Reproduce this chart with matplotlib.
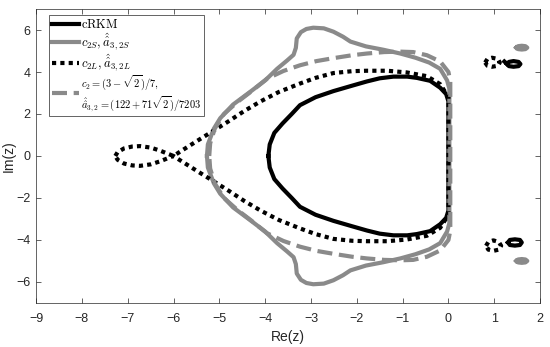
import numpy as np
import matplotlib
matplotlib.use("Agg")
import matplotlib.pyplot as plt

plt.rcParams["font.family"] = ["Liberation Sans", "DejaVu Sans"]
plt.rcParams["mathtext.fontset"] = "cm"

# =========================
# Data (upper halves; lower half is the mirror image)
# =========================

crkm_x = [-3.93, -3.90, -3.80, -3.62, -3.42, -3.24, -2.90, -2.51, -2.10, -1.78,
          -1.50, -1.20, -0.90, -0.69, -0.40, -0.18, -0.05, 0.0, 0.0]
crkm_y = [0.0, 0.55, 1.10, 1.55, 2.00, 2.42, 2.80, 3.09, 3.35, 3.55,
          3.70, 3.78, 3.78, 3.72, 3.58, 3.25, 2.95, 2.60, 0.0]

c2s_x = [-5.27, -5.25, -5.12, -4.98, -4.70, -4.33, -4.00, -3.74, -3.52, -3.38,
         -3.33, -3.31, -3.22, -3.10, -2.95, -2.72, -2.51, -2.30, -2.14, -1.80,
         -1.42, -1.05, -0.72, -0.42, -0.18, -0.03, 0.02, 0.02]
c2s_y = [0.0, 0.55, 1.30, 1.80, 2.45, 3.05, 3.60, 4.15, 4.55, 4.82,
         5.15, 5.60, 5.90, 6.05, 6.11, 6.08, 5.92, 5.68, 5.45, 5.22,
         5.06, 4.88, 4.68, 4.45, 4.15, 3.60, 3.20, 0.0]

c2l_x = [-7.27, -7.22, -7.08, -6.90, -6.73, -6.50, -6.30, -6.15, -6.00,
         -5.86, -5.49, -5.15, -4.80, -4.45, -4.10, -3.70, -3.24, -2.90,
         -2.51, -2.10, -1.78, -1.34, -0.91, -0.47, -0.18, 0.0, 0.0]
c2l_y = [0.0, 0.18, 0.36, 0.45, 0.47, 0.40, 0.26, 0.13, 0.0,
         0.20, 0.71, 1.17, 1.65, 2.15, 2.60, 3.05, 3.45, 3.72,
         3.95, 4.04, 4.06, 4.06, 3.98, 3.80, 3.42, 2.80, 0.0]

c2_x = [-5.22, -5.20, -5.10, -4.90, -4.60, -4.30, -3.96, -3.60, -3.24, -2.88,
        -2.51, -2.10, -1.78, -1.40, -1.05, -0.77, -0.47, -0.18, 0.0, 0.04, 0.04]
c2_y = [0.0, 0.60, 1.30, 2.00, 2.58, 3.08, 3.68, 4.05, 4.32, 4.52,
        4.66, 4.80, 4.88, 4.95, 4.97, 4.95, 4.80, 4.50, 4.00, 3.55, 0.0]

# small isolated loops near the imaginary axis
gray_top_x = [1.48, 1.52, 1.60, 1.68, 1.72, 1.68, 1.60, 1.52, 1.48]
gray_top_y = [5.16, 5.23, 5.25, 5.23, 5.16, 5.09, 5.07, 5.09, 5.16]
gray_bot_x = [1.48, 1.52, 1.60, 1.68, 1.72, 1.68, 1.60, 1.52, 1.48]
gray_bot_y = [-5.00, -4.93, -4.91, -4.93, -5.00, -5.07, -5.09, -5.07, -5.00]

blk_top_x = [1.28, 1.32, 1.42, 1.53, 1.57, 1.53, 1.42, 1.32, 1.28, 1.22]
blk_top_y = [4.38, 4.48, 4.52, 4.48, 4.38, 4.28, 4.25, 4.28, 4.38, 4.50]
blk_bot_x = [1.30, 1.34, 1.45, 1.56, 1.60, 1.56, 1.45, 1.34, 1.30]
blk_bot_y = [-4.12, -4.00, -3.97, -4.00, -4.12, -4.24, -4.27, -4.24, -4.12]

dot_top_x = [0.80, 0.85, 0.95, 1.08, 1.12, 1.08, 0.95, 0.85, 0.80]
dot_top_y = [4.45, 4.62, 4.68, 4.62, 4.45, 4.30, 4.25, 4.30, 4.45]
dot_bot_x = [0.82, 0.87, 0.98, 1.10, 1.15, 1.10, 0.98, 0.87, 0.82]
dot_bot_y = [-4.28, -4.10, -4.02, -4.10, -4.28, -4.46, -4.52, -4.46, -4.28]

labels = [
    r"$\mathrm{cRKM}$",
    r"$c_{2S},\hat{\hat{a}}_{3,2S}$",
    r"$c_{2L},\hat{\hat{a}}_{3,2L}$",
    r"$c_2=(3-\sqrt{2})/7,$" + "\n" + r"$\hat{\hat{a}}_{3,2}=(122+71\sqrt{2})/7203$",
]

x_ticks = list(range(-9, 3))
y_ticks = [-6, -4, -2, 0, 2, 4, 6]

GRAY = "#8a8a8a"


def closed(xs, ys):
    # upper half followed by its mirror image, so the boundary is closed
    xs = np.asarray(xs)
    ys = np.asarray(ys)
    return np.concatenate([xs, xs[::-1]]), np.concatenate([ys, -ys[::-1]])


fig = plt.figure(figsize=(5.5, 3.47), dpi=100)
ax = fig.add_axes([0.0655, 0.127, 0.9165, 0.847])

lw = 3.0
x, y = closed(crkm_x, crkm_y)
ax.plot(x, y, color="black", lw=lw, label=labels[0])
ax.plot(blk_top_x, blk_top_y, color="black", lw=lw)
ax.plot(blk_bot_x, blk_bot_y, color="black", lw=lw)

x, y = closed(c2s_x, c2s_y)
ax.plot(x, y, color=GRAY, lw=lw, label=labels[1])
ax.plot(gray_top_x, gray_top_y, color=GRAY, lw=lw)
ax.plot(gray_bot_x, gray_bot_y, color=GRAY, lw=lw)

x, y = closed(c2l_x, c2l_y)
ax.plot(x, y, color="black", lw=lw, ls=(0, (1, 1)), label=labels[2])
ax.plot(dot_top_x, dot_top_y, color="black", lw=lw, ls=(0, (1, 1)))
ax.plot(dot_bot_x, dot_bot_y, color="black", lw=lw, ls=(0, (1, 1)))

x, y = closed(c2_x, c2_y)
ax.plot(x, y, color=GRAY, lw=lw, ls=(0, (3.6, 1.6)), label=labels[3])

ax.set_xlim(-9, 2)
ax.set_ylim(-7, 7)
ax.set_xticks(x_ticks)
ax.set_yticks(y_ticks)
ax.set_xlabel("Re(z)", fontsize=10, color="#262626", labelpad=4)
ax.set_ylabel("Im(z)", fontsize=10, color="#262626", labelpad=0)
ax.tick_params(direction="in", length=3.5, width=0.5, colors="#262626",
               labelsize=9, top=True, right=True)
ax.tick_params(axis="x", pad=7)
ax.tick_params(axis="y", pad=4)
for s in ax.spines.values():
    s.set_color("#262626")
    s.set_linewidth(0.5)

leg = ax.legend(loc="upper left", bbox_to_anchor=(0.026, 0.98), borderaxespad=0,
                fontsize=9, handlelength=2.1, handletextpad=0.2, handleheight=0.5,
                labelspacing=0.0, borderpad=0.25, fancybox=False, framealpha=1)
leg.get_texts()[3].set_fontsize(7.5)
leg.get_frame().set_edgecolor("#262626")
leg.get_frame().set_linewidth(0.5)

fig.savefig("out.png", dpi=100)
